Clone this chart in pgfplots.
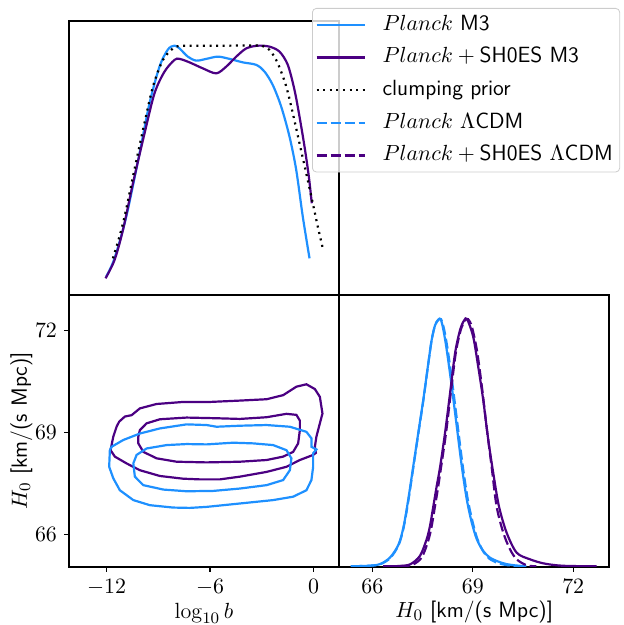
\documentclass[border=0pt]{standalone}
\usepackage{fontspec}
\usepackage{pgfplots}
\pgfplotsset{compat=1.18}
\definecolor{cblue}{RGB}{30,144,255}
\definecolor{cpurp}{RGB}{75,0,130}
\begin{document}
\begin{tikzpicture}
\useasboundingbox (0,0) rectangle (312pt,312.5pt);
\pgfplotsset{
  every axis/.append style={
    scale only axis, anchor=south west,
    axis line style={line width=0.6pt},
    tick align=outside, major tick length=2.5pt,
    xtick pos=bottom, ytick pos=left,
    tick style={line width=0.6pt, black},
    tick label style={font=\fontsize{10.5}{12}\selectfont},
    label style={font=\fontsize{11}{13}\selectfont\sffamily},
    xlabel style={yshift=3pt},
    ylabel style={yshift=-5.5pt},
  },
  lblue/.style={cblue, line width=1.1pt},
  lpurp/.style={cpurp, line width=1.1pt},
  ldot/.style={black, line width=1.1pt, dash pattern=on 1pt off 2.3pt},
  ldash/.style={dash pattern=on 5pt off 2pt},
}
% ---------------- top-left: 1D log10 b ----------------
\begin{axis}[at={(34.5pt,165pt)}, width=135pt, height=137pt,
  xmin=-14.18, xmax=1.48, ymin=0, ymax=1.099,
  xtick=\empty, ytick=\empty,
  legend image code/.code={\draw[#1] (0pt,0pt) -- (24pt,0pt);},
  legend cell align=left,
  legend style={at={(0.9,1.0474)}, anchor=north west,
    font=\fontsize{11}{13}\selectfont\sffamily,
    draw=black!20, rounded corners=2pt, fill=white, fill opacity=0.8, text opacity=1,
    inner xsep=1.5pt, inner ysep=1pt, row sep=1.7pt, column sep=6.5pt,
    nodes={inner sep=2pt, text height=8pt, text depth=2.6pt},
  },
]
\addplot[lblue, smooth] coordinates {
(-12.02,0.074) (-11.54,0.147) (-10.86,0.314) (-10.09,0.568) (-9.51,0.769)
(-8.93,0.916) (-8.44,0.985) (-8.06,1.000) (-7.77,0.989) (-7.29,0.956)
(-6.80,0.940) (-6.22,0.947) (-5.55,0.956) (-4.87,0.947) (-4.10,0.933)
(-3.32,0.923) (-2.84,0.896) (-2.36,0.842) (-1.87,0.755) (-1.39,0.635)
(-1.00,0.501) (-0.62,0.314) (-0.23,0.147)};
\addlegendentry{$Planck$ M3}
\addplot[lpurp, smooth] coordinates {
(-12.06,0.067) (-11.54,0.140) (-11.05,0.261) (-10.47,0.448) (-9.80,0.648)
(-9.22,0.809) (-8.64,0.896) (-8.06,0.943) (-7.77,0.947) (-7.19,0.933)
(-6.42,0.909) (-5.64,0.889) (-5.06,0.916) (-4.48,0.956) (-3.90,0.989)
(-3.23,1.000) (-2.55,0.996) (-1.97,0.976) (-1.49,0.923) (-1.10,0.822)
(-0.81,0.715) (-0.52,0.595) (-0.27,0.475) (-0.10,0.368)};
\addlegendentry{$Planck+{}$SH0ES M3}
\addplot[ldot, smooth] coordinates {
(-11.63,0.147) (-11.05,0.287) (-10.47,0.475) (-9.89,0.662) (-9.31,0.836)
(-8.73,0.943) (-8.15,0.989) (-7.77,0.999) (-7.00,1.000) (-5.0,1.000) (-3.13,1.000)
(-2.55,0.983) (-2.07,0.929) (-1.58,0.836) (-1.20,0.729) (-0.81,0.608)
(-0.42,0.488) (-0.04,0.368) (0.25,0.274) (0.54,0.187)};
\addlegendentry{clumping prior}
\addlegendimage{cblue, line width=1.1pt, ldash}
\addlegendentry{$Planck$ $\Lambda$CDM}
\addlegendimage{cpurp, line width=1.1pt, ldash}
\addlegendentry{$Planck+{}$SH0ES $\Lambda$CDM}
\end{axis}
% ---------------- bottom-left: 2D contours ----------------
\begin{axis}[at={(34.5pt,29pt)}, width=135pt, height=136pt,
  xmin=-14.18, xmax=1.48, ymin=65.04, ymax=73.05,
  xtick={-12,-6,0}, ytick={66,69,72},
  xlabel={$\log_{10} b$}, ylabel={$H_0$ [km/(s Mpc)]},
]
\addplot[lpurp] coordinates {
(-11.77,68.48) (-11.61,68.88) (-11.42,69.17) (-11.27,69.32) (-10.94,69.47)
(-10.55,69.51) (-10.07,69.71) (-9.10,69.84) (-7.56,69.90) (-6.01,69.90)
(-4.27,69.94) (-2.72,69.98) (-1.76,70.10) (-0.99,70.35) (-0.41,70.42)
(0.08,70.28) (0.37,70.05) (0.52,69.56) (0.37,69.27) (0.17,68.88)
(0.08,68.58) (0.14,68.40) (-0.02,68.34) (-0.79,68.19) (-1.57,67.99)
(-2.72,67.84) (-4.27,67.70) (-5.43,67.62) (-6.59,67.62) (-7.56,67.64)
(-8.91,67.72) (-10.07,67.89) (-10.84,68.09) (-11.52,68.29) (-11.77,68.48)};
\addplot[lpurp] coordinates {
(-10.16,68.88) (-10.07,69.07) (-9.68,69.27) (-8.91,69.39) (-7.36,69.44)
(-5.62,69.42) (-4.27,69.40) (-2.72,69.45) (-1.57,69.55) (-0.99,69.52)
(-0.79,69.35) (-0.79,69.07) (-0.89,68.68) (-1.18,68.43) (-1.76,68.29)
(-2.72,68.19) (-4.27,68.14) (-6.20,68.12) (-7.94,68.14) (-9.10,68.24)
(-9.87,68.43) (-10.16,68.68) (-10.16,68.88)};
\addplot[lblue] coordinates {
(-11.81,68.48) (-11.71,68.58) (-11.03,68.78) (-10.07,68.97) (-8.91,69.12)
(-7.36,69.24) (-6.20,69.22) (-5.62,69.17) (-4.27,69.20) (-2.72,69.22)
(-1.37,69.17) (-0.41,69.02) (-0.12,68.83) (-0.12,68.58) (0.17,68.50)
(-0.02,68.39) (-0.02,67.99) (-0.12,67.60) (-0.41,67.30) (-1.18,67.11)
(-2.34,67.01) (-4.27,66.91) (-6.20,66.81) (-7.17,66.78) (-8.14,66.79)
(-9.49,66.86) (-10.45,67.01) (-11.23,67.30) (-11.61,67.65) (-11.85,67.99)
(-11.81,68.48)};
\addplot[lblue] coordinates {
(-10.45,68.09) (-10.26,68.34) (-9.68,68.53) (-8.52,68.63) (-7.36,68.66)
(-6.20,68.65) (-4.66,68.70) (-3.50,68.68) (-2.34,68.63) (-1.57,68.48)
(-1.28,68.24) (-1.37,67.89) (-1.76,67.60) (-2.72,67.45) (-4.27,67.35)
(-5.82,67.28) (-7.36,67.27) (-8.71,67.32) (-9.87,67.45) (-10.36,67.70)
(-10.45,68.09)};
\end{axis}
% ---------------- bottom-right: 1D H0 ----------------
\begin{axis}[at={(169.65pt,29pt)}, width=134.85pt, height=136pt,
  xmin=65.01, xmax=73.07, ymin=-0.003, ymax=1.098,
  xtick={66,69,72}, ytick=\empty,
  xlabel={$H_0$ [km/(s Mpc)]},
]
\addplot[lblue, smooth] coordinates {
(65.35,0) (65.9,0.002) (66.23,0.009) (66.53,0.036) (66.78,0.088) (66.93,0.16)
(67.07,0.27) (67.22,0.405) (67.37,0.54) (67.52,0.674) (67.67,0.822) (67.77,0.916)
(67.87,0.975) (67.96,0.997) (68.04,1.0) (68.12,0.957) (68.22,0.876) (68.37,0.728)
(68.52,0.566) (68.67,0.405) (68.82,0.27) (68.97,0.176) (69.12,0.109) (69.31,0.062)
(69.51,0.035) (69.76,0.019) (70.0,0.009) (70.3,0.003) (70.6,0)};
\addplot[lblue, ldash, smooth] coordinates {
(65.4,0) (65.9,0.002) (66.23,0.008) (66.53,0.033) (66.78,0.085) (66.93,0.155)
(67.07,0.262) (67.22,0.398) (67.37,0.535) (67.52,0.67) (67.67,0.82) (67.77,0.915)
(67.87,0.975) (67.97,0.997) (68.05,1.0) (68.14,0.96) (68.25,0.876) (68.40,0.728)
(68.55,0.566) (68.70,0.405) (68.85,0.27) (69.0,0.176) (69.14,0.109) (69.32,0.058)
(69.5,0.03) (69.75,0.013) (70.0,0.005) (70.3,0.001) (70.5,0)};
\addplot[lpurp, smooth] coordinates {
(66.32,0) (66.8,0.001) (67.13,0.008) (67.42,0.042) (67.62,0.109) (67.72,0.163)
(67.82,0.243) (67.92,0.324) (68.02,0.40) (68.17,0.540) (68.32,0.701) (68.47,0.863)
(68.62,0.957) (68.74,0.995) (68.83,1.0) (69.01,0.930) (69.16,0.809) (69.31,0.674)
(69.46,0.513) (69.61,0.378) (69.78,0.243) (70.01,0.136) (70.31,0.055) (70.71,0.028)
(71.1,0.012) (71.5,0.004) (71.9,0.001) (72.7,0)};
\addplot[lpurp, ldash, smooth] coordinates {
(66.4,0) (66.9,0.001) (67.2,0.006) (67.47,0.035) (67.66,0.1) (67.76,0.155)
(67.86,0.235) (67.96,0.318) (68.05,0.40) (68.2,0.54) (68.34,0.70) (68.49,0.863)
(68.64,0.957) (68.77,0.995) (68.86,1.0) (68.97,0.97) (69.12,0.876) (69.27,0.728)
(69.41,0.566) (69.56,0.405) (69.71,0.243) (69.91,0.136) (70.11,0.069) (70.31,0.028)
(70.61,0.004) (70.9,0)};
\end{axis}
\end{tikzpicture}
\end{document}
